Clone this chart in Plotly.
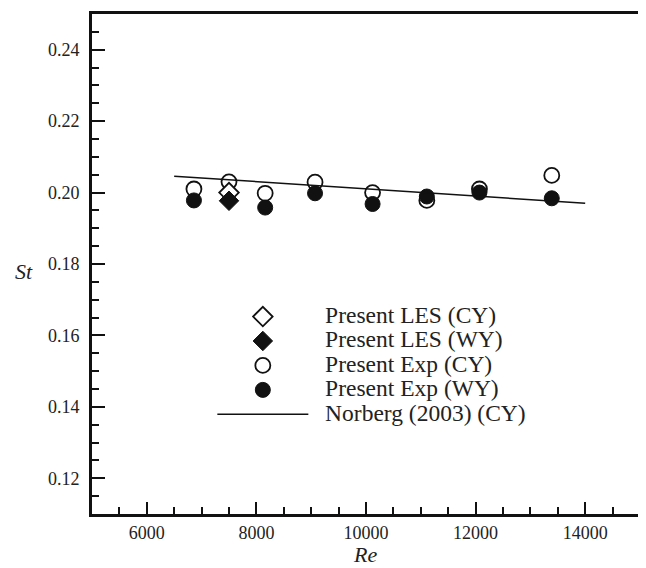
import plotly.graph_objects as go

# Present experiment (circles)
exp_cy_re = [6860, 7500, 8160, 9070, 10120, 11110, 12070, 13390]
exp_cy_st = [0.2010, 0.2030, 0.1998, 0.2029, 0.2000, 0.1978, 0.2010, 0.2048]
exp_wy_re = [6860, 8160, 9070, 10120, 11110, 12070, 13390]
exp_wy_st = [0.1978, 0.1958, 0.1998, 0.1968, 0.1989, 0.2000, 0.1984]
# Present LES (diamonds)
les_cy_re = [7500]
les_cy_st = [0.2000]
les_wy_re = [7500]
les_wy_st = [0.1977]
# Norberg (2003)
nor_re = [6500, 10000, 14000]
nor_st = [0.2046, 0.2011, 0.1970]

FONT = "Liberation Serif, Times New Roman, serif"
BIG = "<span style='font-size:23.5px'>&nbsp;&nbsp;%s</span>"

fig = go.Figure()
fig.add_trace(go.Scatter(x=exp_cy_re, y=exp_cy_st, mode="markers", name=BIG % "Present Exp (CY)",
                         legendrank=3,
                         marker=dict(symbol="circle", size=15, color="white",
                                     line=dict(color="#111111", width=1.8))))
fig.add_trace(go.Scatter(x=exp_wy_re, y=exp_wy_st, mode="markers", name=BIG % "Present Exp (WY)",
                         legendrank=4,
                         marker=dict(symbol="circle", size=15, color="#111111",
                                     line=dict(color="#111111", width=1))))
fig.add_trace(go.Scatter(x=les_cy_re, y=les_cy_st, mode="markers", name=BIG % "Present LES (CY)",
                         legendrank=1,
                         marker=dict(symbol="diamond", size=15, color="white",
                                     line=dict(color="#111111", width=1.8))))
fig.add_trace(go.Scatter(x=les_wy_re, y=les_wy_st, mode="markers", name=BIG % "Present LES (WY)",
                         legendrank=2,
                         marker=dict(symbol="diamond", size=15, color="#111111",
                                     line=dict(color="#111111", width=1))))
fig.add_trace(go.Scatter(x=nor_re, y=nor_st, mode="lines", name=BIG % "Norberg (2003) (CY)",
                         legendrank=5,
                         line=dict(color="#111111", width=1.5)))

fig.update_layout(
    width=638, height=560,
    margin=dict(l=84, r=3, t=3, b=54),
    paper_bgcolor="white", plot_bgcolor="white",
    font=dict(family=FONT, size=18, color="#222222"),
    showlegend=True,
    legend=dict(x=0.2196, y=0.4294, xanchor="left", yanchor="top",
                font=dict(family=FONT, size=16.5, color="#222222"),
                bgcolor="rgba(0,0,0,0)", itemwidth=91, tracegroupgap=0),
    annotations=[
        dict(text="<i>St</i>", x=-0.1234, y=0.485, xref="paper", yref="paper",
             xanchor="center", yanchor="middle",
             showarrow=False, font=dict(family=FONT, size=22, color="#222222")),
        dict(text="<i>Re</i>", x=0.499, y=-0.0815, xref="paper", yref="paper",
             xanchor="center", yanchor="middle", borderpad=0,
             showarrow=False, font=dict(family=FONT, size=22, color="#222222")),
    ],
)
fig.update_xaxes(range=[5000, 15000], tickvals=[6000, 8000, 10000, 12000, 14000], tickformat="d",
                 ticks="inside", ticklen=12, tickwidth=2, tickcolor="#111111",
                 minor=dict(dtick=500, tick0=5000, ticks="inside", ticklen=7, tickwidth=2, tickcolor="#111111"),
                 showline=True, linewidth=3, linecolor="#111111", mirror=True,
                 showgrid=False, zeroline=False, ticklabelstandoff=0)
fig.update_yaxes(range=[0.11, 0.25], tickvals=[0.12, 0.14, 0.16, 0.18, 0.20, 0.22, 0.24], tickformat=".2f",
                 ticks="inside", ticklen=13, tickwidth=2, tickcolor="#111111",
                 minor=dict(dtick=0.005, tick0=0.11, ticks="inside", ticklen=7, tickwidth=2, tickcolor="#111111"),
                 showline=True, linewidth=3, linecolor="#111111", mirror=True,
                 showgrid=False, zeroline=False, ticklabelstandoff=6)

fig.write_html("out.html")
